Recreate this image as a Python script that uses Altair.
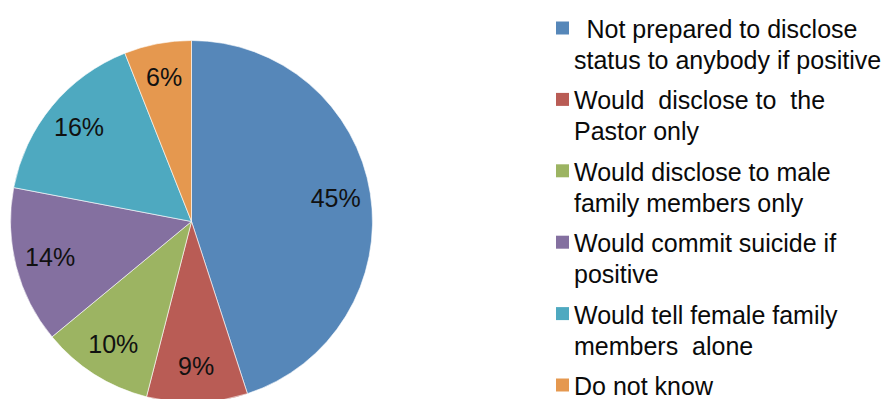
import altair as alt
import pandas as pd

categories = [
    "Not prepared to disclose status to anybody if positive",
    "Would disclose to the Pastor only",
    "Would disclose to male family members only",
    "Would commit suicide if positive",
    "Would tell female family members alone",
    "Do not know",
]
legend_lines = [
    "\u200b\u2002Not prepared to disclose\nstatus to anybody if positive",
    "Would\u00a0 disclose to\u00a0 the\nPastor only",
    "Would disclose to male\nfamily members only",
    "Would commit suicide if\npositive",
    "Would tell female family\nmembers\u00a0 alone",
    "Do not know",
]
values = [45, 9, 10, 14, 16, 6]
labels = ["45%", "9%", "10%", "14%", "16%", "6%"]
colors = ["#5687B9", "#B95C55", "#9CB462", "#8470A0", "#4EA9C0", "#E5984F"]

df = pd.DataFrame({
    "idx": list(range(len(categories))),
    "category": categories,
    "legend": legend_lines,
    "value": values,
    "label": labels,
})

cx, cy, R = 183.5, 213.5, 181
color = alt.Color("category:N", sort=categories,
                  scale=alt.Scale(domain=categories, range=colors), legend=None)

base = alt.Chart(df)

pie = base.mark_arc(outerRadius=R, stroke="white", strokeWidth=0.6).encode(
    theta=alt.Theta("value:Q", stack=True),
    order=alt.Order("idx:Q"),
    color=color,
    x=alt.value(cx), y=alt.value(cy),
)

pie_text = base.mark_text(radius=146, fontSize=25, font="Liberation Sans",
                          color="#111111", align="center", baseline="middle").encode(
    theta=alt.Theta("value:Q", stack=True),
    order=alt.Order("idx:Q"),
    text="label:N",
    x=alt.value(cx), y=alt.value(cy),
)

yscale = alt.Y("category:N", sort=categories,
               scale=alt.Scale(type="point", range=[30, 387], padding=0), axis=None)

leg_sym = base.mark_point(shape="square", filled=True, size=169, opacity=1, yOffset=-10).encode(
    x=alt.value(554.5),
    y=yscale,
    color=color,
)

leg_text = base.mark_text(align="left", baseline="alphabetic", fontSize=25,
                          font="Liberation Sans", color="#0a0a0a",
                          lineBreak="\n", lineHeight=31).encode(
    x=alt.value(566),
    y=yscale,
    text="legend:N",
)

chart = alt.layer(pie, pie_text, leg_sym, leg_text).properties(
    width=878, height=391, autosize=alt.AutoSizeParams(type="none"), padding=0
).configure_view(stroke=None)

chart.save("out.html", embed_options={"renderer": "svg", "actions": False})
